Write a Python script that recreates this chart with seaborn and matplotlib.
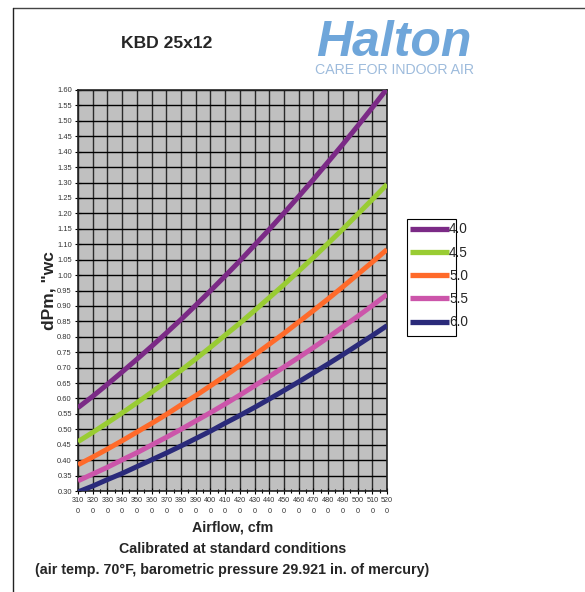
import numpy as np
import pandas as pd
import matplotlib
matplotlib.use("Agg")
import matplotlib.pyplot as plt
import seaborn as sns
from matplotlib.lines import Line2D
from matplotlib.patches import Rectangle

airflow = [3100, 3200, 3300, 3400, 3500, 3600, 3700, 3800, 3900, 4000, 4100,
           4200, 4300, 4400, 4500, 4600, 4700, 4800, 4900, 5000, 5100, 5200]
dp_40 = [0.570, 0.607, 0.646, 0.686, 0.727, 0.769, 0.812, 0.856, 0.902, 0.949, 0.997,
         1.046, 1.097, 1.148, 1.201, 1.255, 1.310, 1.367, 1.424, 1.483, 1.543, 1.604]
dp_45 = [0.460, 0.490, 0.521, 0.553, 0.586, 0.620, 0.655, 0.691, 0.728, 0.766, 0.805,
         0.844, 0.885, 0.927, 0.969, 1.013, 1.057, 1.103, 1.149, 1.197, 1.245, 1.294]
dp_50 = [0.385, 0.410, 0.436, 0.463, 0.491, 0.519, 0.548, 0.579, 0.609, 0.641, 0.673,
         0.707, 0.741, 0.776, 0.811, 0.848, 0.885, 0.923, 0.962, 1.002, 1.042, 1.083]
dp_55 = [0.333, 0.355, 0.377, 0.401, 0.424, 0.449, 0.474, 0.500, 0.527, 0.554, 0.582,
         0.611, 0.641, 0.671, 0.702, 0.733, 0.765, 0.798, 0.832, 0.866, 0.901, 0.937]
dp_60 = [0.297, 0.316, 0.337, 0.357, 0.379, 0.401, 0.423, 0.446, 0.470, 0.494, 0.520,
         0.545, 0.571, 0.598, 0.626, 0.654, 0.683, 0.712, 0.742, 0.773, 0.804, 0.836]
series_names = ["4.0", "4.5", "5.0", "5.5", "6.0"]
series_colors = ["#7B2A86", "#99CC33", "#FF6A2A", "#CC55AA", "#2A2A7A"]
xtick_labels = ["310\n0", "320\n0", "330\n0", "340\n0", "350\n0", "360\n0", "370\n0",
                "380\n0", "390\n0", "400\n0", "410\n0", "420\n0", "430\n0", "440\n0",
                "450\n0", "460\n0", "470\n0", "480\n0", "490\n0", "500\n0", "510\n0", "520\n0"]
ytick_values = [0.30, 0.35, 0.40, 0.45, 0.50, 0.55, 0.60, 0.65, 0.70, 0.75, 0.80, 0.85,
                0.90, 0.95, 1.00, 1.05, 1.10, 1.15, 1.20, 1.25, 1.30, 1.35, 1.40, 1.45,
                1.50, 1.55, 1.60]

frames = []
for name, vals in zip(series_names, [dp_40, dp_45, dp_50, dp_55, dp_60]):
    frames.append(pd.DataFrame({"airflow": airflow, "dp": vals, "series": name}))
df = pd.concat(frames, ignore_index=True)

sns.set_theme(style="white")
plt.rcParams['font.family'] = ['Liberation Sans', 'DejaVu Sans']

W, H = 585, 592
fig = plt.figure(figsize=(W / 100, H / 100), dpi=100)
L, R, T, B = 78, 387, 90, 491
ax = fig.add_axes([L / W, 1 - B / H, (R - L) / W, (B - T) / H])
ax.set_facecolor("#C0C0C0")

sns.lineplot(data=df, x="airflow", y="dp", hue="series", palette=series_colors,
             hue_order=series_names, linewidth=3.6, ax=ax, legend=False, zorder=3,
             solid_capstyle="butt")

ax.set_xlim(3100, 5200)
ax.set_ylim(0.30, 1.60)
ax.set_xticks(airflow)
ax.set_xticklabels(xtick_labels, fontsize=5.2, color="#333333", linespacing=1.7)
ax.set_xticks([a + 50 for a in airflow[:-1]], minor=True)
ax.set_yticks(ytick_values)
ax.set_yticklabels([f"{v:.2f}" for v in ytick_values], fontsize=5.4, color="#333333")
ax.tick_params(axis="both", which="major", direction="inout", length=5, width=0.8,
               color="black", pad=2)
ax.tick_params(axis="x", which="minor", direction="inout", length=3, width=0.8,
               color="black", bottom=True)
ax.tick_params(axis="y", which="major", left=True)
ax.tick_params(axis="x", which="major", bottom=True)
ax.grid(False, which="minor")
ax.xaxis.grid(True, which="major", color="#2a2a2a", linewidth=1.0, zorder=1)
ax.yaxis.grid(True, which="major", color="black", linewidth=1.0, zorder=1)
ax.set_axisbelow(True)
for s in ax.spines.values():
    s.set_color("#222222")
    s.set_linewidth(1.2)

ax.set_xlabel("Airflow, cfm\nCalibrated at standard conditions\n(air temp. 70°F, barometric pressure 29.921 in. of mercury)",
              fontsize=10.3, fontweight="bold", linespacing=1.68, labelpad=4)
ax.set_ylabel("dPm, \"wc", fontsize=12.5, fontweight="bold")
ax.yaxis.set_label_coords(-0.068, 0.5)

handles = [Line2D([0], [0], color=c, linewidth=3.8, solid_capstyle="butt") for c in series_colors]
leg = fig.legend(handles, series_names, loc="upper left",
                 bbox_to_anchor=(405 / W, 1 - 217 / H), fontsize=9.8,
                 handlelength=2.8, handletextpad=0.05, borderpad=0.4,
                 labelspacing=0.68, frameon=False, borderaxespad=0)
fig.add_artist(Rectangle((407 / W, 1 - 336 / H), 49 / W, 117 / H, fill=False,
                         edgecolor="black", linewidth=0.8, transform=fig.transFigure))

fig.text(167 / W, 1 - 44 / H, "KBD 25x12", fontsize=12.6, fontweight="bold",
         ha="center", va="center")
fig.text(394 / W, 1 - 56 / H, "Halton", fontsize=36, fontweight="bold", style="italic",
         color="#6FA6DA", ha="center", va="baseline")
fig.text(394 / W, 1 - 74 / H, "CARE FOR INDOOR AIR", fontsize=10.2,
         color="#9DBBDC", ha="center", va="baseline")

fig.add_artist(Line2D([13 / W, 1], [1 - 8 / H, 1 - 8 / H], color="#444444", linewidth=1.0,
                      transform=fig.transFigure))
fig.add_artist(Line2D([13 / W, 13 / W], [1 - 8 / H, 0], color="#222222", linewidth=1.0,
                      transform=fig.transFigure))

fig.savefig("out.png", dpi=100)
